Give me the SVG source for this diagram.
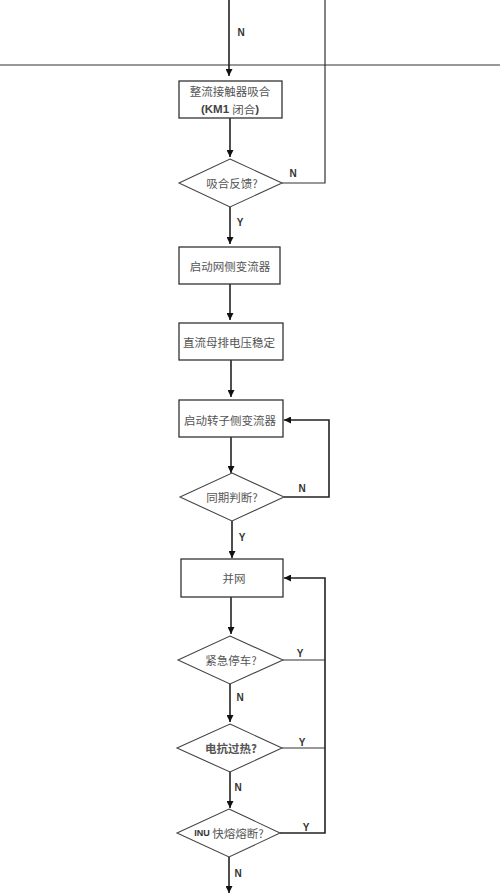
<svg xmlns="http://www.w3.org/2000/svg" width="500" height="894" viewBox="0 0 500 894">
<defs>
<marker id="ah" viewBox="0 0 10 10" refX="10" refY="5" markerWidth="7" markerHeight="7" markerUnits="userSpaceOnUse" orient="auto">
<path d="M0,0 L10,5 L0,10 z" fill="#111"/>
</marker>
</defs>
<style>
.box{fill:#fff;stroke:#333;stroke-width:1.3}
.dia{fill:#fff;stroke:#444;stroke-width:1.1}
.ln{fill:none;stroke:#333;stroke-width:1.2}
.arr{fill:none;stroke:#222;stroke-width:1.6;marker-end:url(#ah)}
.t{font-family:"Noto Sans CJK SC","Liberation Serif",serif;font-size:11.5px;fill:#555;text-anchor:middle;dominant-baseline:central}
.lb{font-family:"Liberation Sans","DejaVu Sans",sans-serif;font-size:10px;font-weight:bold;fill:#333;text-anchor:middle;dominant-baseline:central}
</style>
<g id="connectors">
<line class="ln" x1="0" y1="65" x2="500" y2="65" stroke-width="1"/>
<line class="arr" x1="229" y1="0" x2="229" y2="76"/>
<polyline class="ln" points="325,0 325,183 282,183"/>
<line class="arr" x1="230" y1="118" x2="230" y2="157"/>
<line class="arr" x1="230" y1="207" x2="230" y2="244"/>
<line class="arr" x1="230" y1="284" x2="230" y2="320"/>
<line class="arr" x1="231" y1="360" x2="231" y2="397"/>
<line class="arr" x1="231" y1="437" x2="231" y2="473"/>
<line class="arr" x1="232" y1="521" x2="232" y2="558"/>
<polyline class="arr" points="284,497 329,497 329,420 284,420"/>
<line class="arr" x1="231" y1="597" x2="231" y2="634"/>
<line class="arr" x1="230" y1="684" x2="230" y2="722"/>
<line class="arr" x1="230" y1="772" x2="230" y2="808"/>
<line class="arr" x1="229" y1="857" x2="229" y2="893"/>
<line class="ln" x1="283" y1="660" x2="325" y2="660"/>
<line class="ln" x1="282" y1="748" x2="325" y2="748"/>
<polyline class="arr" points="280,833 325,833 325,578 284,578"/>
</g>
<g id="labels">
<text class="lb" x="241" y="32">N</text>
<text class="lb" x="293" y="173">N</text>
<text class="lb" x="240" y="222">Y</text>
<text class="lb" x="302" y="488">N</text>
<text class="lb" x="242" y="537">Y</text>
<text class="lb" x="300" y="653">Y</text>
<text class="lb" x="240" y="697">N</text>
<text class="lb" x="302" y="742">Y</text>
<text class="lb" x="238" y="787">N</text>
<text class="lb" x="306" y="827">Y</text>
<text class="lb" x="238" y="873">N</text>
</g>
<g id="n1">
<rect class="box" x="179" y="81" width="103" height="37"/>
<text class="t" x="230" y="91">整流接触器吸合</text>
<text class="t" x="230" y="109"><tspan font-family="'Liberation Sans',sans-serif" font-weight="bold" fill="#444">(KM1 </tspan>闭合<tspan font-family="'Liberation Sans',sans-serif" font-weight="bold" fill="#444">)</tspan></text>
</g>
<g id="d1">
<polygon class="dia" points="230,159 282,183 230,207 179,183"/>
<text class="t" x="232" y="183">吸合反馈?</text>
</g>
<g id="n2">
<rect class="box" x="179" y="247" width="101" height="37"/>
<text class="t" x="230" y="266">启动网侧变流器</text>
</g>
<g id="n3">
<rect class="box" x="179" y="323" width="104" height="37"/>
<text class="t" x="229" y="342">直流母排电压稳定</text>
</g>
<g id="n4">
<rect class="box" x="179" y="400" width="104" height="37"/>
<text class="t" x="230" y="420">启动转子侧变流器</text>
</g>
<g id="d2">
<polygon class="dia" points="232,473 284,497 232,521 180,497"/>
<text class="t" x="232" y="497">同期判断?</text>
</g>
<g id="n5">
<rect class="box" x="181" y="559" width="102" height="38" stroke-width="1.8"/>
<text class="t" x="234" y="578">并网</text>
</g>
<g id="d3">
<polygon class="dia" points="230,636 283,660 230,684 178,660"/>
<text class="t" x="231" y="660">紧急停车?</text>
</g>
<g id="d4">
<polygon class="dia" points="230,724 282,748 230,772 177,748"/>
<text class="t" x="231" y="748" font-weight="bold" font-size="13px" fill="#222">电抗过热?</text>
</g>
<g id="d5">
<polygon class="dia" points="229,809 280,833 229,857 177,833"/>
<text class="t" x="229" y="833" font-size="10.5px"><tspan font-family="'Liberation Sans',sans-serif" font-weight="bold" font-size="9px" fill="#333">INU </tspan>快熔熔断?</text>
</g>
</svg>
